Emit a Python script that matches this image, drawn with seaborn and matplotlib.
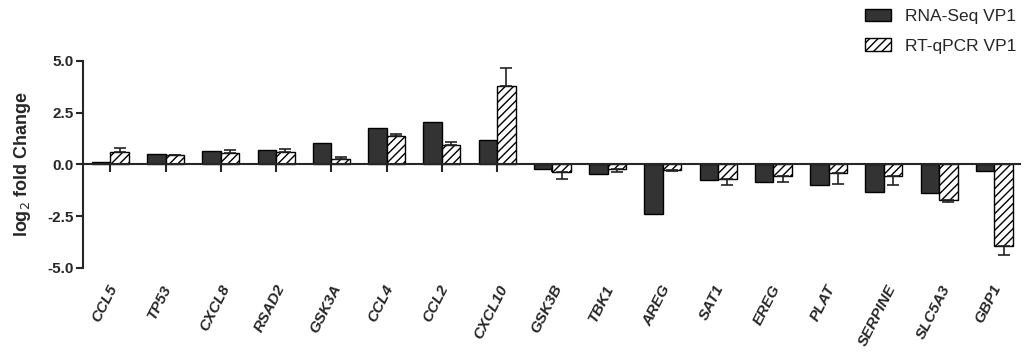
import seaborn as sns
import numpy as np
import pandas as pd
import matplotlib.pyplot as plt
import matplotlib.transforms as mtransforms

genes = ['CCL5', 'TP53', 'CXCL8', 'RSAD2', 'GSK3A', 'CCL4', 'CCL2', 'CXCL10', 'GSK3B',
         'TBK1', 'AREG', 'SAT1', 'EREG', 'PLAT', 'SERPINE', 'SLC5A3', 'GBP1']
rnaseq = [0.12, 0.50, 0.64, 0.68, 1.03, 1.76, 2.04, 1.17, -0.21,
          -0.48, -2.38, -0.77, -0.87, -1.01, -1.35, -1.38, -0.34]
qpcr = [0.60, 0.43, 0.53, 0.58, 0.25, 1.38, 0.95, 3.81, -0.39,
        -0.23, -0.29, -0.69, -0.55, -0.40, -0.56, -1.73, -3.95]
qpcr_err = [0.20, 0.04, 0.17, 0.17, 0.12, 0.11, 0.11, 0.85, 0.30,
            0.16, 0.04, 0.29, 0.30, 0.53, 0.44, 0.10, 0.43]
series = ['RNA-Seq VP1', 'RT-qPCR VP1']

sns.set_style('ticks')
plt.rcParams['font.family'] = ['Liberation Sans', 'DejaVu Sans']
plt.rcParams['hatch.linewidth'] = 1.0

df = pd.DataFrame({
    'gene': genes * 2,
    'value': rnaseq + qpcr,
    'series': [series[0]] * len(genes) + [series[1]] * len(genes),
})

fig = plt.figure(figsize=(10.27, 3.52), dpi=100)
ax = fig.add_axes([0.081, 0.239, 0.912, 0.588])

sns.barplot(data=df, x='gene', y='value', hue='series', hue_order=series,
            palette={series[0]: '#333333', series[1]: 'white'},
            width=0.67, edgecolor='black', linewidth=1.0, errorbar=None,
            legend=False, ax=ax)

for p in ax.containers[1]:
    p.set_hatch('////')

# one-sided error bars (away from zero) on qPCR bars
xs = [p.get_x() + p.get_width() / 2 for p in ax.containers[1]]
vals = np.array(qpcr)
errs = np.array(qpcr_err)
lower = np.where(vals < 0, errs, 0)
upper = np.where(vals >= 0, errs, 0)
ax.errorbar(xs, vals, yerr=[lower, upper], fmt='none', ecolor='#222222',
            elinewidth=1.2, capsize=4, capthick=1.2, zorder=1)

ax.set_ylim(-5, 5)
ax.set_xlim(-0.49, 16.46)
ax.set_yticks([-5, -2.5, 0, 2.5, 5])
ax.set_yticklabels(['-5.0', '-2.5', '0.0', '2.5', '5.0'], fontweight='bold', fontsize=11)
ax.set_ylabel('log$_2$ fold Change', fontweight='bold', fontsize=13, labelpad=10)
ax.set_xlabel('')

ax.spines['bottom'].set_position(('data', 0))
ax.spines['right'].set_visible(False)
ax.spines['top'].set_visible(False)
for s in ['left', 'bottom']:
    ax.spines[s].set_linewidth(1.5)
ax.tick_params(axis='y', width=1.5, length=5, pad=2)
ax.tick_params(axis='x', width=1.5, length=6, pad=79)
ax.set_xticks(range(len(genes)))
ax.set_xticklabels(genes, rotation=63, ha='center', fontweight='bold',
                   fontstyle='italic', fontsize=11)
shift = mtransforms.ScaledTranslation(-6 / 100, 0, fig.dpi_scale_trans)
for lab in ax.get_xticklabels():
    lab.set_transform(lab.get_transform() + shift)

handles = [ax.containers[0][0], ax.containers[1][0]]
fig.legend(handles, series, loc='upper right', bbox_to_anchor=(1.005, 1.02),
           frameon=False, fontsize=12.5, handlelength=1.5, handleheight=0.7,
           labelspacing=0.85)

fig.savefig('out.png', dpi=100)
